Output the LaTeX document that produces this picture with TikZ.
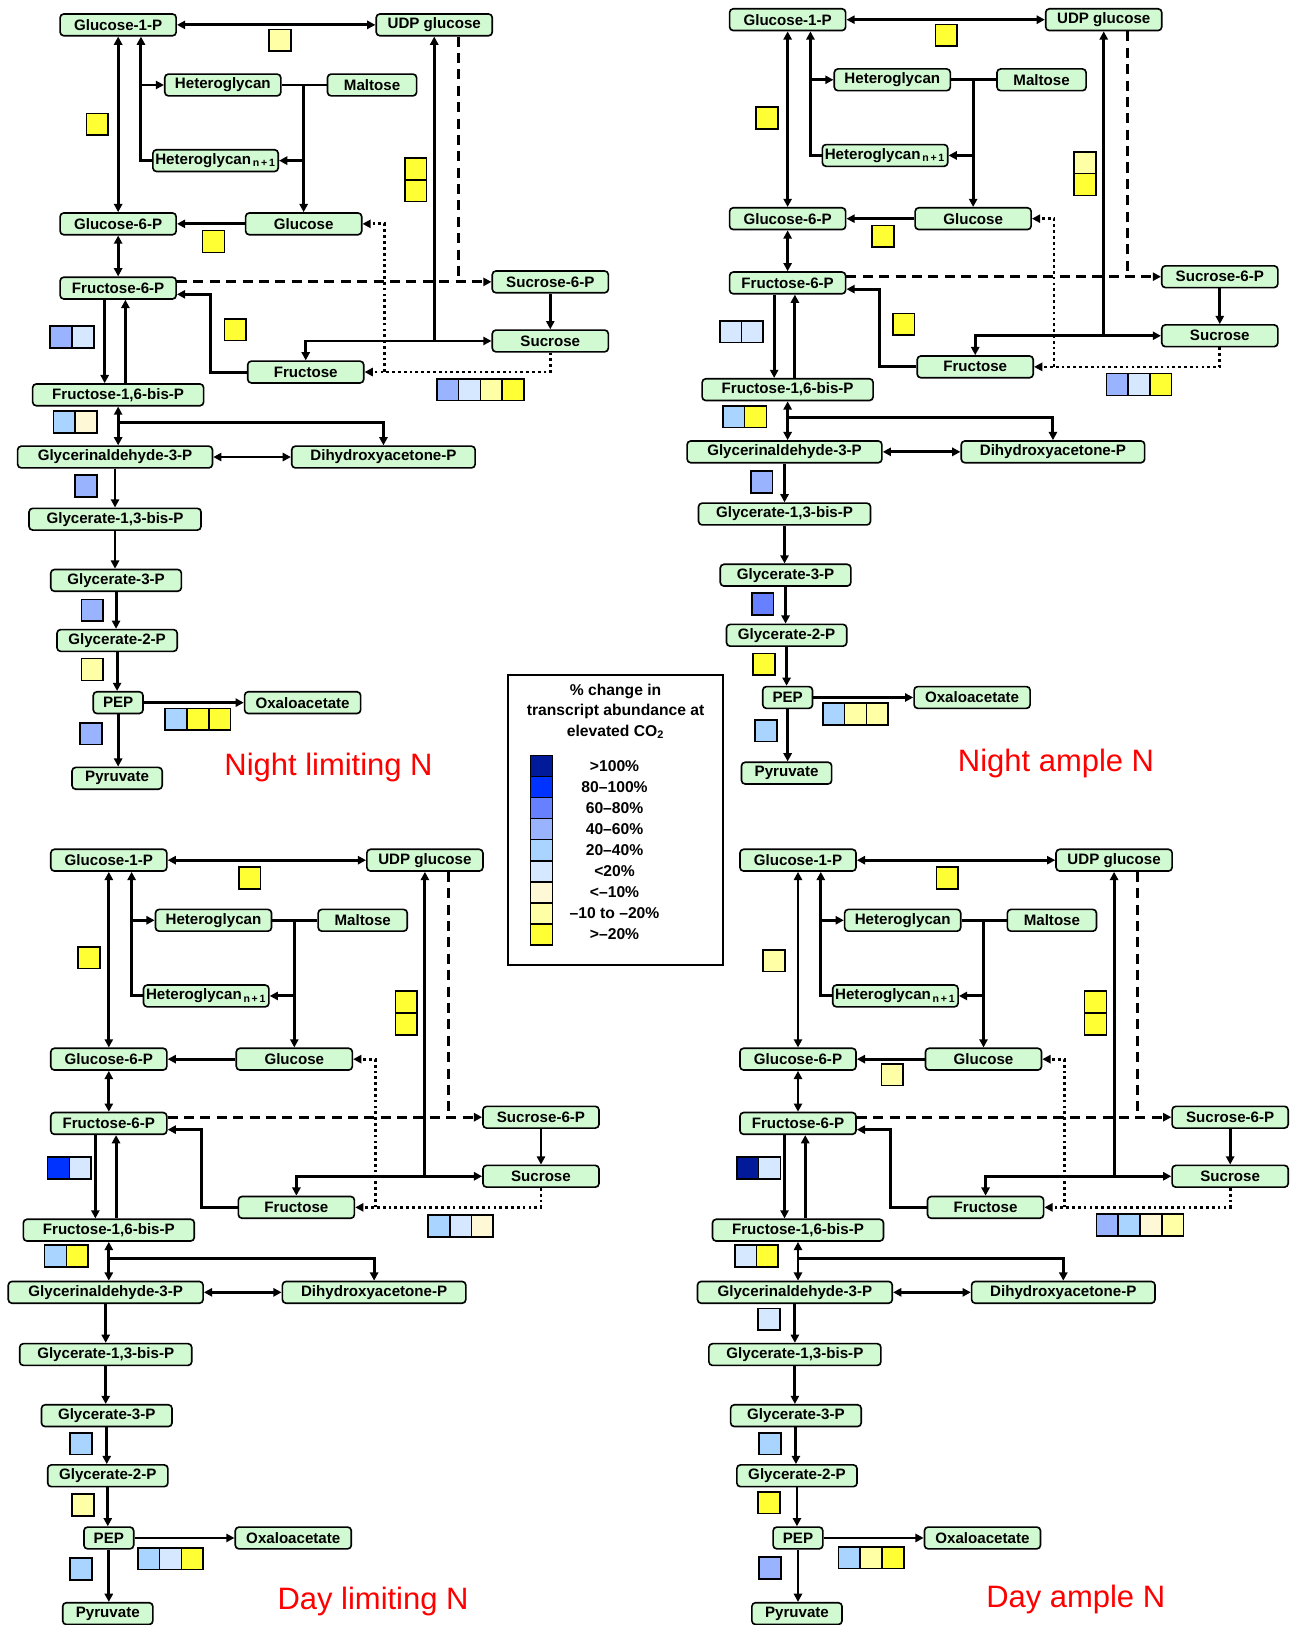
\documentclass[tikz,border=0pt]{standalone}
\usepackage{fontspec}
\setmainfont{Liberation Sans}
\usetikzlibrary{arrows.meta}

\definecolor{boxgreen}{HTML}{D2FAD2}
\definecolor{c1}{HTML}{001A99}
\definecolor{c2}{HTML}{0033FF}
\definecolor{c3}{HTML}{6680FF}
\definecolor{c4}{HTML}{99B3FF}
\definecolor{c5}{HTML}{A8D4FF}
\definecolor{c6}{HTML}{D6E8FF}
\definecolor{c7}{HTML}{FFF8D6}
\definecolor{c8}{HTML}{FFFFA6}
\definecolor{c9}{HTML}{FFFF33}

\tikzset{
  >={Triangle[length=4.5pt,width=4.5pt]},
  metab/.style={draw, line width=0.9pt, rounded corners=2pt, fill=boxgreen,
    font=\bfseries\fontsize{8.3}{9}\selectfont, minimum width=2.24cm,
    minimum height=0.42cm, inner xsep=1pt, inner ysep=0pt},
  plain/.style={line width=1.6pt},
  flow/.style={plain, ->},
  dashline/.style={line width=1.6pt, dash pattern=on 5.5pt off 3.5pt},
  dashflow/.style={dashline, ->},
  dotflow/.style={line width=1.5pt, dash pattern=on 1.5pt off 1.7pt, ->},
  sqbox/.style={draw, line width=0.9pt},
  legtext/.style={font=\bfseries\fontsize{8.6}{11.3}\selectfont, inner sep=0pt},
  paneltitle/.style={text=red, font=\fontsize{17}{18}\selectfont, inner sep=0pt, anchor=base}
}

\newcommand{\sq}[3]{\draw[sqbox, fill=#3] ({#1-10.5},{#2-10.5}) rectangle ++(21,21);}

\newcommand{\pathway}{%
  \node[metab] (g1p) at (114,24) {Glucose-1-P};
  \node[metab] (udp) at (419,24) {UDP glucose};
  \node[metab] (hg) at (215,82) {Heteroglycan};
  \node[metab, minimum width=1.72cm] (mal) at (359,82) {Maltose};
  \node[metab, minimum width=2.42cm] (hgn) at (208,155) {Heteroglycan\textsubscript{\,n\,+\,1}};
  \node[metab] (g6p) at (114,216) {Glucose-6-P};
  \node[metab] (glc) at (293,216) {Glucose};
  \node[metab] (f6p) at (114,278) {Fructose-6-P};
  \node[metab] (s6p) at (531,272) {Sucrose-6-P};
  \node[metab] (suc) at (531,329) {Sucrose};
  \node[metab] (fru) at (295,359) {Fructose};
  \node[metab, minimum width=3.3cm] (fbp) at (114,381) {Fructose-1,6-bis-P};
  \node[metab, minimum width=3.76cm] (gap) at (111,441) {Glycerinaldehyde-3-P};
  \node[metab, minimum width=3.54cm] (dhap) at (370,441) {Dihydroxyacetone-P};
  \node[metab, minimum width=3.32cm] (bpg) at (111,501) {Glycerate-1,3-bis-P};
  \node[metab, minimum width=2.52cm] (pga3) at (112,560) {Glycerate-3-P};
  \node[metab, minimum width=2.32cm] (pga2) at (113,618) {Glycerate-2-P};
  \node[metab, minimum width=0.96cm] (pep) at (114,678) {PEP};
  \node[metab] (oaa) at (292,678) {Oxaloacetate};
  \node[metab, minimum width=1.74cm] (pyr) at (113,751) {Pyruvate};
  \coordinate (hj) at (136,82);
  \coordinate (dj) at (371,359);
  \coordinate (fj) at (203,284);
  \coordinate (aj) at (114,408);
  \draw[flow, <->] (g1p) -- (udp);
  \draw[flow, <->] (g1p) -- (g6p);
  \draw[flow] (hgn.west) -| (hj |- g1p.south);
  \draw[flow] (hj) -- (hg.west);
  \draw[plain] (hg.east) -- (mal.west);
  \draw[flow] (hg.east -| glc.north) -- (glc.north);
  \draw[flow] (hgn.east -| glc.north) -- (hgn.east);
  \draw[flow] (glc) -- (g6p);
  \draw[flow, <->] (g6p) -- (f6p);
  \draw[dashflow] (f6p.east |- s6p.west) -- (s6p.west);
  \draw[dashline] ([xshift=0.46cm]udp.south) -- ([xshift=0.46cm]udp.south |- s6p.west);
  \draw[flow] (s6p) -- (suc);
  \draw[flow, <->] (fru.north) |- (suc.west);
  \draw[flow] (udp.south |- suc.west) -- (udp.south);
  \draw[dotflow] (suc.south) |- (fru.east);
  \draw[dotflow] (dj) |- (glc.east);
  \draw[flow] (fru.west) -| (fj) -- (fj -| f6p.east);
  \draw[flow] ([xshift=-0.26cm]f6p.south) -- ([xshift=-0.26cm]f6p.south |- fbp.north);
  \draw[flow] ([xshift=0.14cm]f6p.south |- fbp.north) -- ([xshift=0.14cm]f6p.south);
  \draw[flow, <->] (fbp.south) -- (fbp.south |- gap.north);
  \draw[flow] (aj) -| (dhap.north);
  \draw[flow, <->] (gap) -- (dhap);
  \draw[flow] (gap) -- (bpg);
  \draw[flow] (bpg.south) -- (bpg.south |- pga3.north);
  \draw[flow] (pga3.south) -- (pga3.south |- pga2.north);
  \draw[flow] (pga2.south) -- (pga2.south |- pep.north);
  \draw[flow] (pep) -- (oaa);
  \draw[flow] (pep.south) -- (pep.south |- pyr.north);
}

\begin{document}
\begin{tikzpicture}[x=0.02cm, y=-0.02cm]
  \useasboundingbox (0,0) rectangle (1248,1568);

  % night, limiting N
  \begin{scope}[name prefix=nl-]
    \pathway
    \sq{270}{39}{c8} \sq{94}{120}{c9}
    \sq{401}{163}{c9} \sq{401}{184}{c9}
    \sq{206}{233}{c9} \sq{227}{318}{c9}
    \sq{59}{325}{c4} \sq{80}{325}{c6}
    \foreach \x/\c in {432/c4, 453/c6, 474/c8, 495/c9} {\sq{\x}{376}{\c}}
    \sq{62}{407}{c5} \sq{83}{407}{c7}
    \sq{83}{469}{c4} \sq{89}{589}{c4} \sq{89}{646}{c8}
    \foreach \x/\c in {170/c5, 191/c9, 212/c9} {\sq{\x}{694}{\c}}
    \sq{88}{708}{c4}
    \node[paneltitle] (title) at (317,748) {Night limiting N};
  \end{scope}

  % night, ample N
  \begin{scope}[shift={(646,-5)}, name prefix=na-]
    \pathway
    \sq{267}{39}{c9} \sq{94}{119}{c9}
    \sq{401}{162}{c8} \sq{401}{183}{c9}
    \sq{206}{233}{c9} \sq{226}{318}{c9}
    \sq{59}{325}{c6} \sq{80}{325}{c6}
    \foreach \x/\c in {432/c4, 453/c6, 474/c9} {\sq{\x}{376}{\c}}
    \sq{62}{407}{c5} \sq{83}{407}{c9}
    \sq{89}{470}{c4} \sq{90}{588}{c3} \sq{91}{646}{c9}
    \foreach \x/\c in {158.5/c5, 179.5/c8, 200.5/c8} {\sq{\x}{694}{\c}}
    \sq{93}{710}{c5}
    \node[paneltitle] (title) at (373,749) {Night ample N};
  \end{scope}

  % day, limiting N
  \begin{scope}[shift={(-9,806)}, name prefix=dl-]
    \pathway
    \sq{250}{41}{c9} \sq{95}{118}{c9}
    \sq{401}{161}{c9} \sq{401}{182}{c9}
    \sq{65.5}{321}{c2} \sq{86.5}{321}{c6}
    \foreach \x/\c in {432.5/c5, 453.5/c6, 474.5/c7} {\sq{\x}{377}{\c}}
    \sq{62.5}{406}{c5} \sq{83.5}{406}{c9}
    \sq{87}{587}{c5} \sq{89}{646}{c8}
    \foreach \x/\c in {152.5/c5, 173.5/c6, 194.5/c9} {\sq{\x}{698}{\c}}
    \sq{87}{708}{c5}
    \node[paneltitle] (title) at (369,747) {Day limiting N};
  \end{scope}

  % day, ample N
  \begin{scope}[shift={(656,806)}, name prefix=da-]
    \pathway
    \sq{258}{41}{c9} \sq{91}{121}{c8}
    \sq{401}{161}{c9} \sq{401}{182}{c9}
    \sq{205}{231}{c8}
    \sq{65.5}{321}{c1} \sq{86.5}{321}{c6}
    \foreach \x/\c in {412.5/c4, 433.5/c5, 454.5/c7, 475.5/c8} {\sq{\x}{376}{\c}}
    \sq{63.5}{406}{c6} \sq{84.5}{406}{c9}
    \sq{86}{467}{c6} \sq{87}{587}{c5} \sq{86}{644}{c9}
    \foreach \x/\c in {163.5/c5, 184.5/c8, 205.5/c9} {\sq{\x}{697}{\c}}
    \sq{87}{707}{c4}
    \node[paneltitle] (title) at (382,745) {Day ample N};
  \end{scope}

  % legend
  \draw[line width=1pt] (490,651) rectangle (698,931);
  \node[legtext, align=center] (legtitle) at (594,686) {\% change in\\transcript abundance at\\elevated CO\textsubscript{2}};
  \foreach \c/\t [count=\i] in {c1/{>100\%}, c2/{80–100\%}, c3/{60–80\%}, c4/{40–60\%}, c5/{20–40\%},
      c6/{<20\%}, c7/{<–10\%}, c8/{–10 to –20\%}, c9/{>–20\%}} {
    \draw[sqbox, fill=\c] (512,{729+(\i-1)*20.3}) rectangle ++(21,20.3);
    \node[legtext] (leg\i) at (593,{739.2+(\i-1)*20.3}) {\t};
  }
\end{tikzpicture}
\end{document}
